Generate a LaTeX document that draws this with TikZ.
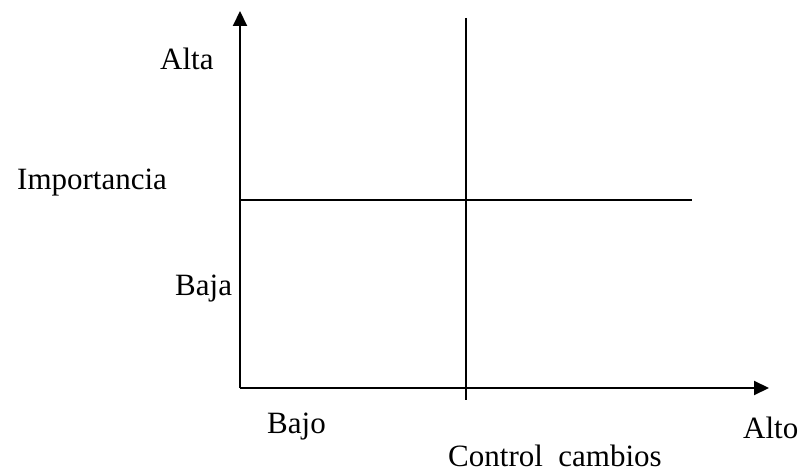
\documentclass[tikz,border=0pt]{standalone}
\usepackage{fontspec}
\setmainfont{Liberation Serif}
\usetikzlibrary{arrows.meta}
\begin{document}
\begin{tikzpicture}[x=1pt, y=1pt]
            \tikzset{
                axis-line/.style = {line width = 2pt, -{Triangle[length = 15pt, width = 14pt]}},
                grid-line/.style = {line width = 1.6pt},
                axis-label/.style = {anchor = base west, inner sep = 0pt, text depth = 0pt, font = \fontsize{31}{36}\selectfont}
            }
            \useasboundingbox (0, 0) rectangle (800, 474);

            \coordinate (origin) at (240, 86);
            \coordinate (y-tip) at (240, 463);
            \coordinate (x-tip) at (769, 86);
            \coordinate (mid-top) at (466, 456);
            \coordinate (mid-bottom) at (466, 74);
            \coordinate (half-left) at (240, 274);
            \coordinate (half-right) at (692, 274);

            \draw[axis-line] (origin) -- (y-tip);
            \draw[axis-line] (origin) -- (x-tip);
            \draw[grid-line] (mid-top) -- (mid-bottom);
            \draw[grid-line] (half-left) -- (half-right);

            \node[axis-label] (alta) at (160, 404) {Alta};
            \node[axis-label] (importancia) at (17, 284) {Importancia};
            \node[axis-label] (baja) at (175, 178) {Baja};
            \node[axis-label] (bajo) at (267, 41) {Bajo};
            \node[axis-label] (alto) at (743, 36) {Alto};
            \node[axis-label] (control) at (448, 8) {Control\ \ cambios};
        \end{tikzpicture}
\end{document}
